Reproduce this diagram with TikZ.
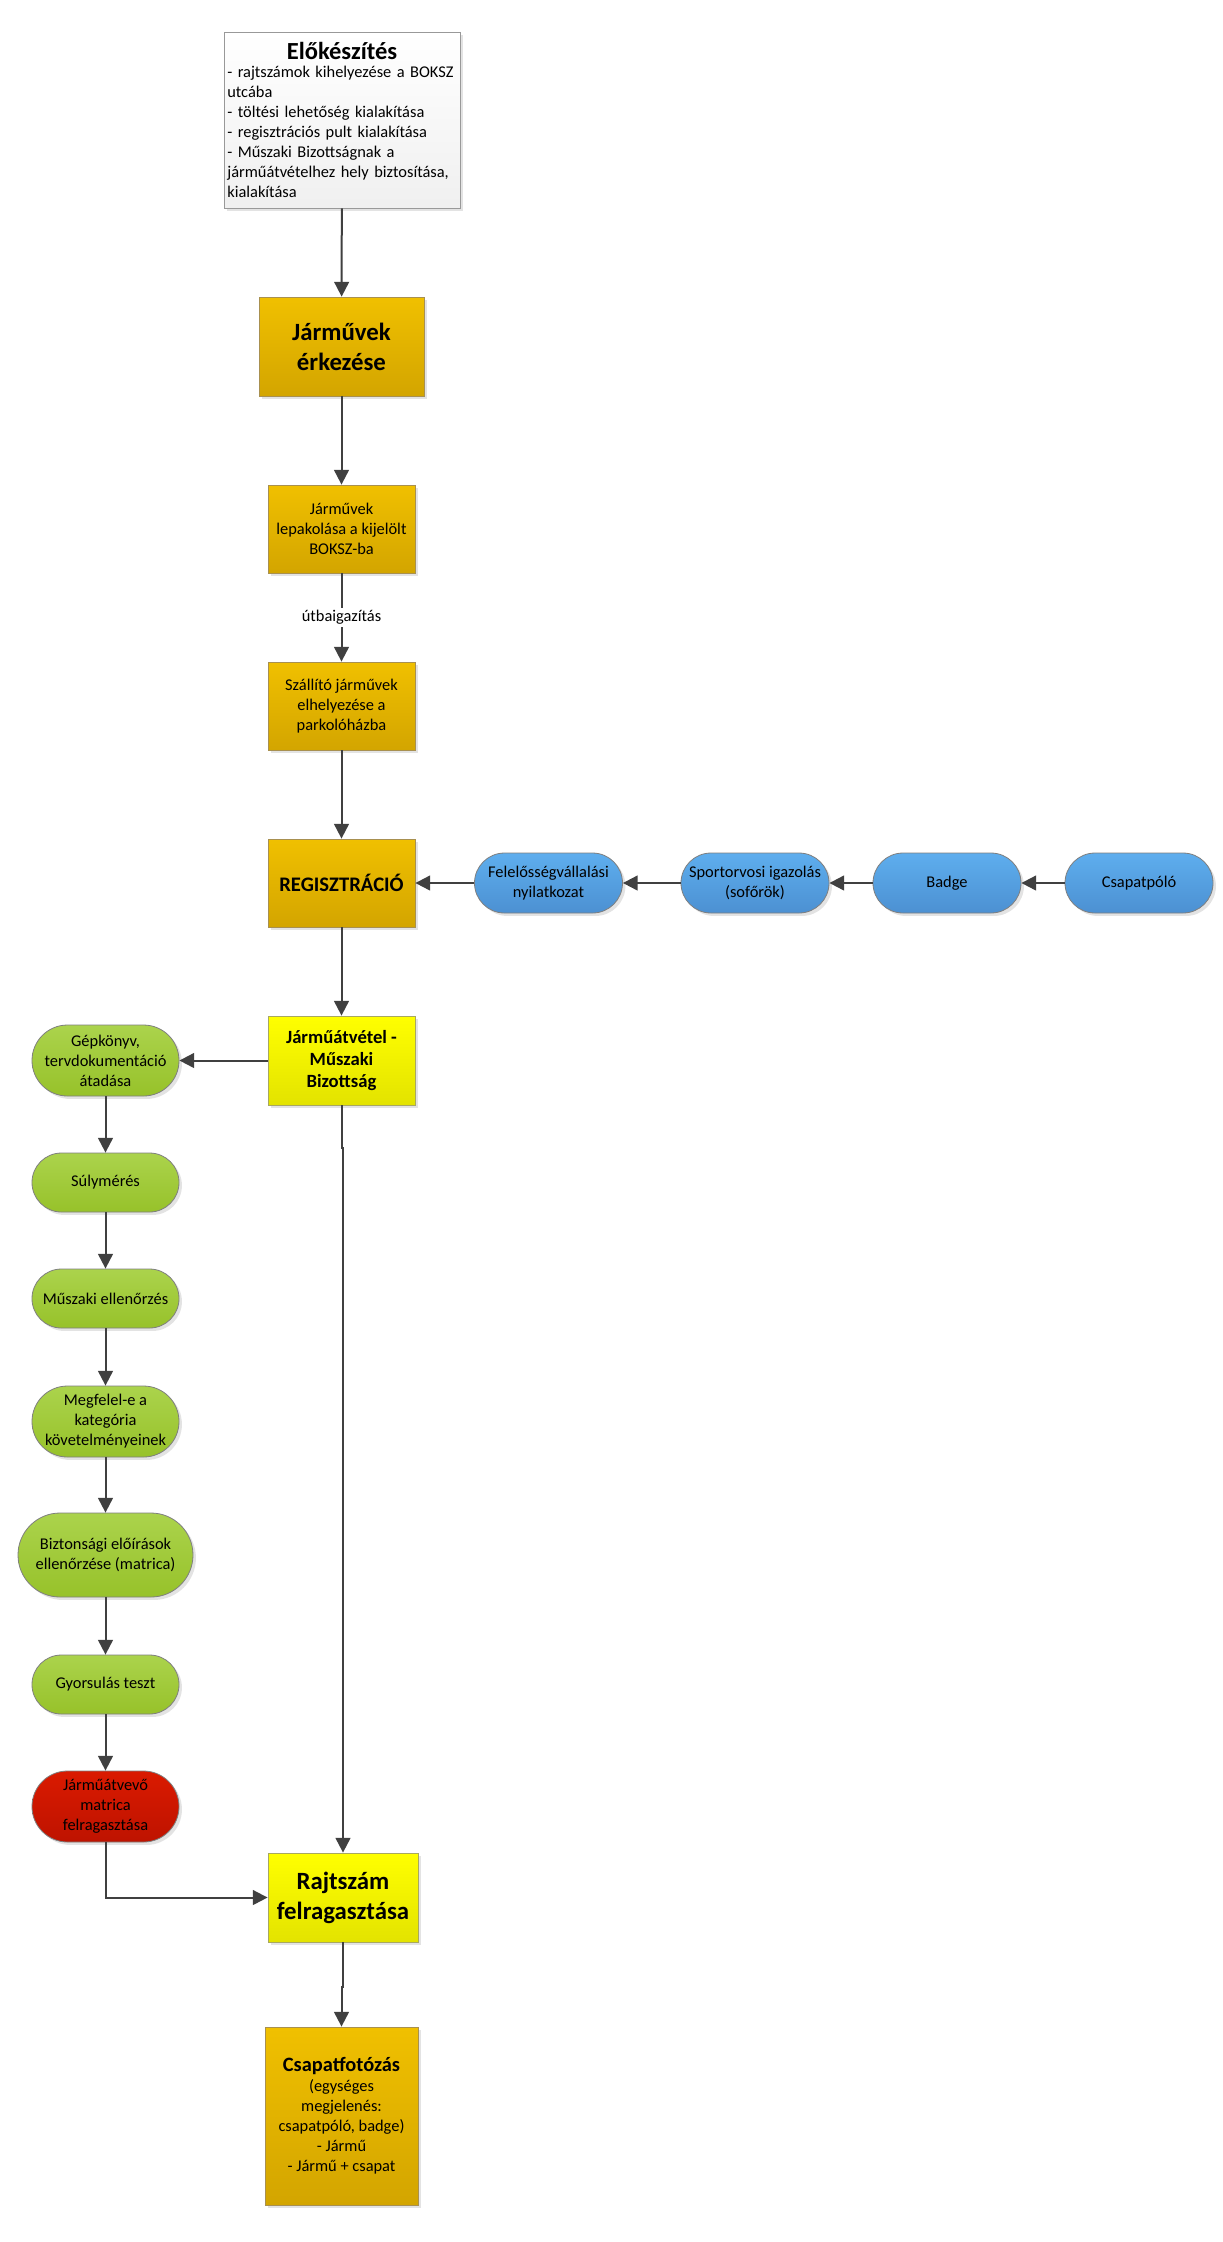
\documentclass[tikz,border=0pt]{standalone}
\usepackage{fontspec}
\setmainfont{Carlito}
\usetikzlibrary{arrows.meta,shadows}
\definecolor{gold1}{HTML}{F0C000}
\definecolor{gold2}{HTML}{D3A500}
\definecolor{gold3}{HTML}{A89050}
\definecolor{yel1}{HTML}{FFFF00}
\definecolor{yel2}{HTML}{E3E300}
\definecolor{yel3}{HTML}{A8A860}
\definecolor{blu1}{HTML}{5EAEEE}
\definecolor{blu2}{HTML}{4C90D2}
\definecolor{grn1}{HTML}{ABD34C}
\definecolor{grn2}{HTML}{97C22A}
\definecolor{red1}{HTML}{DA1A00}
\definecolor{red2}{HTML}{BE1300}
\definecolor{edgegray}{HTML}{7F7F7F}
\definecolor{conn}{HTML}{404040}
\tikzset{
  nd/.style={draw=edgegray, line width=0.6pt, inner sep=1pt, align=center, text=black,
    font=\fontsize{12.3}{15}\selectfont,
    drop shadow={shadow xshift=2.2pt, shadow yshift=-2.2pt, opacity=0.22}},
  goldbox/.style={nd, rectangle, top color=gold1, bottom color=gold2, draw=gold3},
  yelbox/.style={nd, rectangle, top color=yel1, bottom color=yel2, draw=yel3},
  whitebox/.style={nd, rectangle, top color=white, bottom color=black!6, draw=black!40},
  pill/.style={nd, rectangle, rounded corners=#1},
  bluepill/.style={pill=22.5pt, top color=blu1, bottom color=blu2, minimum width=111pt, minimum height=45pt},
  greenpill/.style={pill=#1, top color=grn1, bottom color=grn2, minimum width=110.25pt},
  redpill/.style={pill=#1, top color=red1, bottom color=red2, minimum width=110.25pt},
  stdsize/.style={minimum width=110.25pt, minimum height=66pt},
  arr/.style={draw=conn, line width=1.5pt, -{Triangle[length=11pt,width=11pt]}},
  lineonly/.style={draw=conn, line width=1.5pt},
  bigbold/.style={font=\fontsize{18.6}{22.5}\selectfont\bfseries},
}
\begin{document}
\begin{tikzpicture}[x=0.75pt, y=-0.75pt]
\fill[white] (0,0) rectangle (1223,2242);
\useasboundingbox (0,0) rectangle (1223,2242);

% main column
\node[whitebox, minimum width=177pt, minimum height=132pt, text width=172pt, align=left] (elo) at (342,120)
  {\makebox[\hsize]{\fontsize{18.4}{22}\selectfont\bfseries Előkészítés}\\[-2pt]
   - rajtszámok kihelyezése a BOKSZ\\
   utcába\\
   - töltési lehetőség kialakítása\\
   - regisztrációs pult kialakítása\\
   - Műszaki Bizottságnak a\\
   járműátvételhez hely biztosítása,\\
   kialakítása};
\node[goldbox, bigbold, minimum width=123.75pt, minimum height=74.25pt] (jarm) at (341.5,346.5) {Járművek\\érkezése};
\node[goldbox, stdsize] (lepak) at (341.5,529) {Járművek\\lepakolása a kijelölt\\BOKSZ-ba};
\node[goldbox, stdsize] (szall) at (341.5,706) {Szállító járművek\\elhelyezése a\\parkolóházba};
\node[goldbox, stdsize, font=\fontsize{15.5}{18}\selectfont\bfseries] (reg) at (341.5,883) {REGISZTRÁCIÓ};
\node[yelbox, minimum width=110.25pt, minimum height=66.75pt, font=\fontsize{14}{16.5}\selectfont\bfseries] (atv) at (341.5,1060.5) {Járműátvétel -\\Műszaki\\Bizottság};
\node[yelbox, bigbold, minimum width=112.5pt, minimum height=66.75pt] (rajt) at (343,1897.5) {Rajtszám\\felragasztása};
\node[goldbox, minimum width=114.75pt, minimum height=133.5pt] (csf) at (341.5,2116)
  {{\fontsize{15.3}{17}\selectfont\bfseries Csapatfotózás}\\(egységes\\megjelenés:\\csapatpóló, badge)\\- Jármű\\- Jármű + csapat};

% blue row
\node[bluepill] (fel) at (548.5,883) {Felelősségvállalási\\nyilatkozat};
\node[bluepill] (sport) at (755,883) {Sportorvosi igazolás\\(sofőrök)};
\node[bluepill] (badge) at (947,883) {Badge};
\node[bluepill] (csp) at (1139,883) {Csapatpóló};

% green column
\node[greenpill=26.6pt, minimum height=53.25pt] (gep) at (105.5,1060.5) {Gépkönyv,\\tervdokumentáció\\átadása};
\node[greenpill=22.1pt, minimum height=44.25pt] (suly) at (105.5,1182.5) {Súlymérés};
\node[greenpill=22.1pt, minimum height=44.25pt] (musz) at (105.5,1298.5) {Műszaki ellenőrzés};
\node[greenpill=26.6pt, minimum height=53.25pt] (megf) at (105.5,1421.5) {Megfelel-e a\\kategória\\követelményeinek};
\node[greenpill=31.5pt, minimum height=63pt, minimum width=131.25pt] (bizt) at (105.5,1555) {Biztonsági előírások\\ellenőrzése (matrica)};
\node[greenpill=22.1pt, minimum height=44.25pt] (gyors) at (105.5,1684.5) {Gyorsulás teszt};
\node[redpill=26.6pt, minimum height=53.25pt] (matr) at (105.5,1806.5) {Járműátvevő\\matrica\\felragasztása};

\coordinate (j1) at (0,1148);
\coordinate (j2) at (0,1987);

% connectors
\draw[arr] (elo) -- (jarm);
\draw[arr] (jarm) -- (lepak);
\draw[arr] (lepak) -- node[fill=white, inner sep=2pt, font=\fontsize{12.3}{15}\selectfont] (lbl) {útbaigazítás} (szall);
\draw[arr] (szall) -- (reg);
\draw[arr] (fel) -- (reg);
\draw[arr] (sport) -- (fel);
\draw[arr] (badge) -- (sport);
\draw[arr] (csp) -- (badge);
\draw[arr] (reg) -- (atv);
\draw[arr] (atv.west) -- (gep.east);
\draw[arr] (gep) -- (suly);
\draw[arr] (suly) -- (musz);
\draw[arr] (musz) -- (megf);
\draw[arr] (megf) -- (bizt);
\draw[arr] (bizt) -- (gyors);
\draw[arr] (gyors) -- (matr);
\draw[arr] (matr.south) |- (rajt.west);
\draw[arr] (atv.south) -- (atv.south |- j1) -| (rajt.north);
\draw[arr] (rajt.south) -- (rajt.south |- j2) -| (csf.north);
\end{tikzpicture}
\end{document}
